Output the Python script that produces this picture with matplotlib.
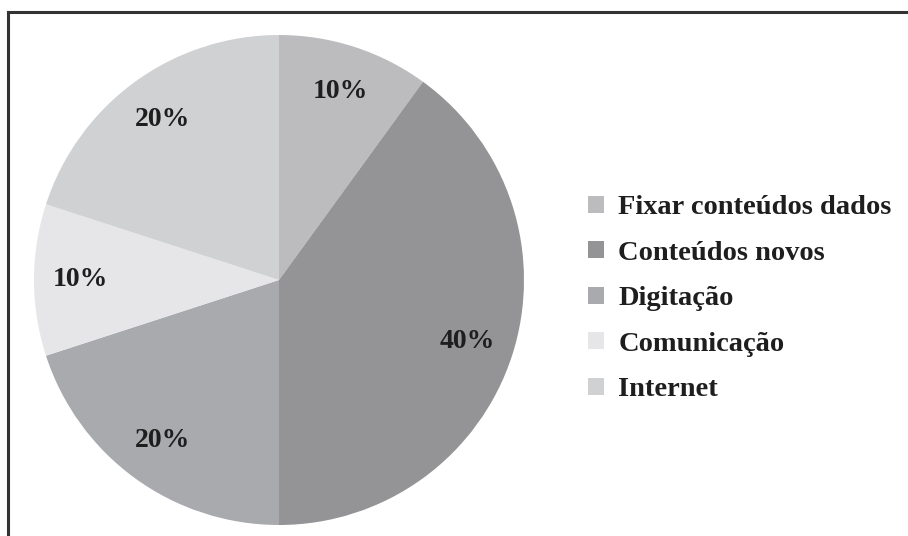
import matplotlib
matplotlib.use("Agg")
from matplotlib import pyplot as plt
from matplotlib.lines import Line2D

labels = ["Fixar conteúdos dados", "Conteúdos novos", "Digitação", "Comunicação", "Internet"]
values = [10, 40, 20, 10, 20]
colors = ["#bcbcbf", "#949497", "#a9aaad", "#e6e6e8", "#d0d1d3"]

plt.rcParams["font.family"] = ["Liberation Serif", "DejaVu Serif"]
plt.rcParams["font.weight"] = "bold"

fig = plt.figure(figsize=(9.08, 5.36), dpi=100)
W, H = 908, 536

# pie axes: centre ~ (279, 280) px, radius ~245 px
cx, cy, r = 279, 280, 245
ax = fig.add_axes([(cx - r) / W, (H - cy - r) / H, 2 * r / W, 2 * r / H])
wedges, _, autotexts = ax.pie(values, colors=colors, startangle=90, counterclock=False,
                              autopct="%d%%", pctdistance=0.81,
                              textprops={"fontsize": 20, "fontweight": "bold", "color": "#1e1e1e"})
ax.set_xlim(-1, 1)
ax.set_ylim(-1, 1)
ax.set_aspect("auto")

# legend
leg = fig.legend(wedges, labels, loc="upper left", bbox_to_anchor=(577 / W, 1 - 184 / H),
                 frameon=False, fontsize=20.5, handlelength=0.55, handleheight=0.55,
                 handletextpad=0.5, labelspacing=0.72, borderaxespad=0)
for t in leg.get_texts():
    t.set_color("#1e1e1e")

# frame lines (top and left only visible)
fig.add_artist(Line2D([7.5 / W, 1], [1 - 11.5 / H, 1 - 11.5 / H], color="#333333", lw=2.2))
fig.add_artist(Line2D([7.5 / W, 7.5 / W], [0, 1 - 11.5 / H], color="#333333", lw=2.2))

fig.savefig("out.png", dpi=100)
